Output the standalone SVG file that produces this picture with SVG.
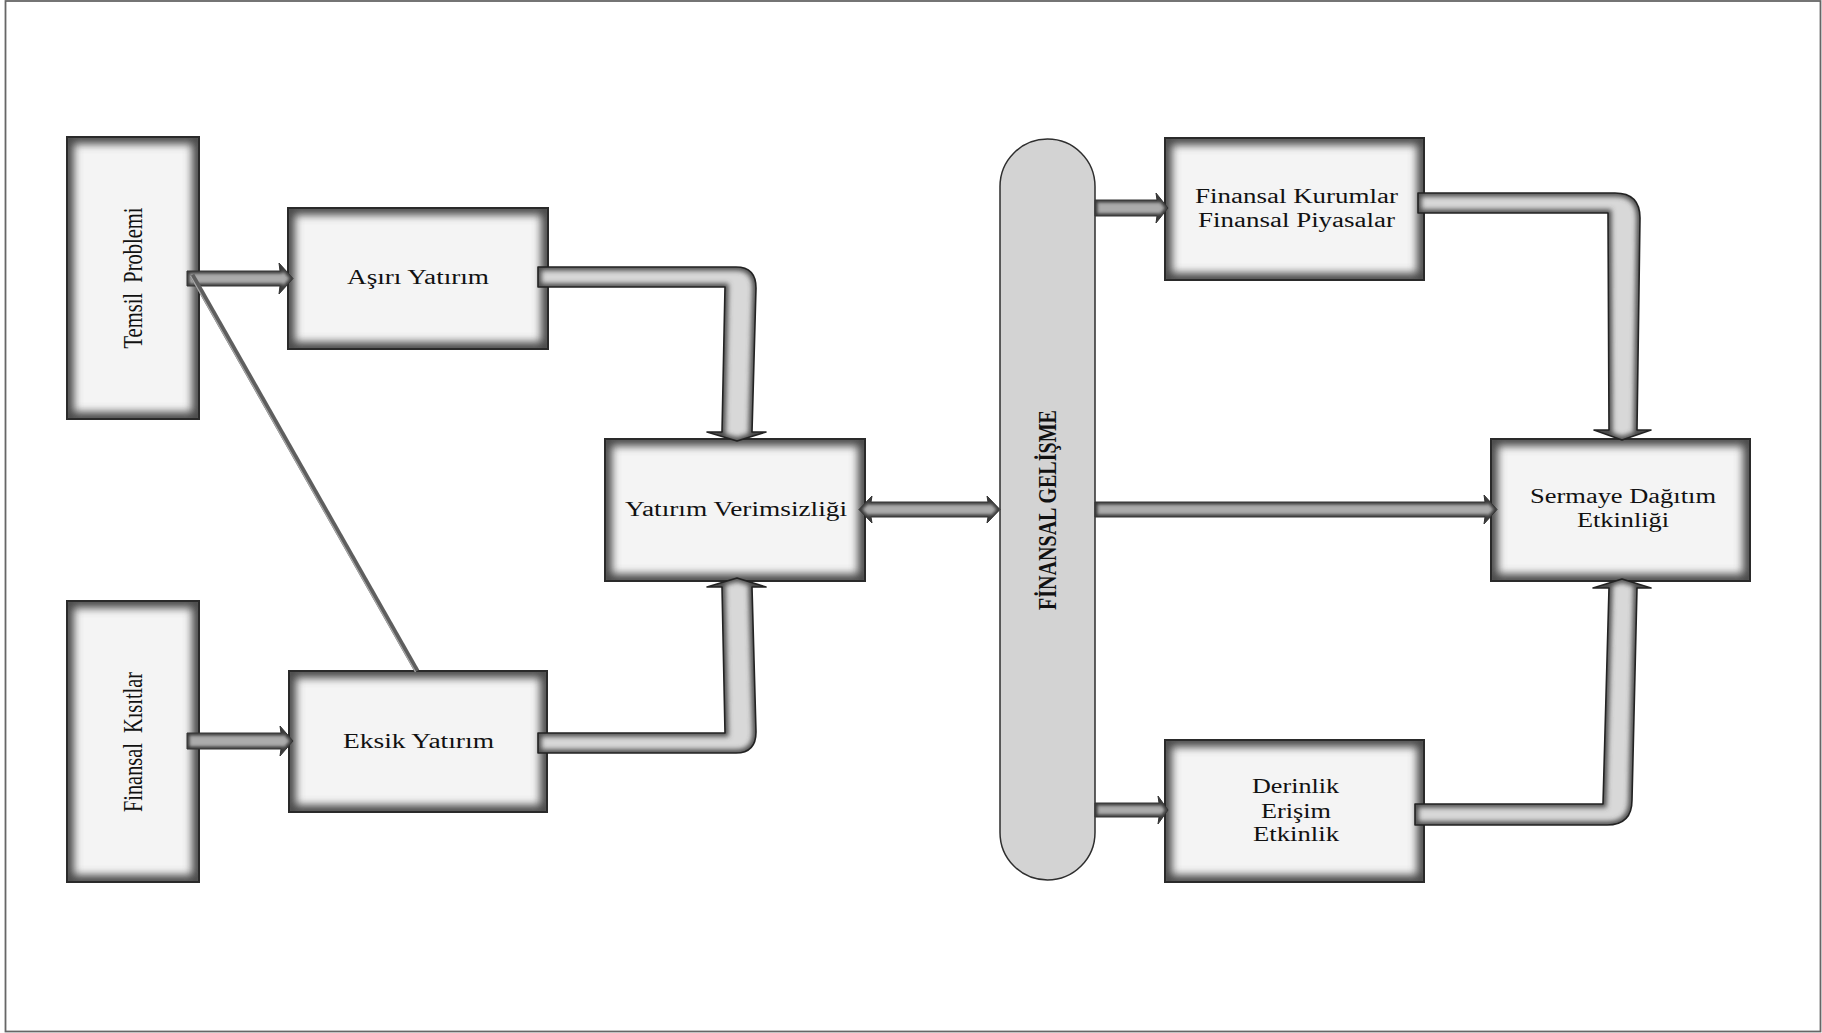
<svg xmlns="http://www.w3.org/2000/svg" width="1822" height="1033" viewBox="0 0 1822 1033">
<defs>
<filter id="blurBox" x="-25%" y="-25%" width="150%" height="150%"><feGaussianBlur stdDeviation="4.5"/></filter>
<filter id="blurPipe" x="-25%" y="-25%" width="150%" height="150%"><feGaussianBlur stdDeviation="2.6"/></filter>
<filter id="blurArr" x="-10%" y="-60%" width="120%" height="220%"><feGaussianBlur stdDeviation="1.6"/></filter>
<clipPath id="cbox" clipPathUnits="objectBoundingBox"><rect x="0" y="0" width="1" height="1"/></clipPath>
<path id="p1" d="M538,267 H736 Q756,267 756,288 L752,432 H766 L737,441 L707,432 H722 L725,287 H538 Z"/>
<path id="p2" d="M538,733 H725 L722,587 H707 L737,578 L766,587 H752 L756,732 Q756,753 736,753 H538 Z"/>
<path id="p3" d="M1418,193 H1615 Q1640,193 1640,218 L1637,430 H1651 L1622,440 L1594,430 H1609 L1608,213 H1418 Z"/>
<path id="p4" d="M1415,804 H1603 L1609,588 H1593 L1622,579 L1651,588 H1637 L1632,800 Q1632,825 1607,825 H1415 Z"/>
<polygon id="a1" points="187,271 280,271 279,263 293,278.5 279,294 280,286 187,286"/>
<polygon id="a2" points="187,733 281,733 280,726 293,741 280,756 281,749 187,749"/>
<polygon id="a3" points="1095,200 1157,200 1156,193 1168,208 1156,223 1157,216 1095,216"/>
<polygon id="a4" points="1095,502 1485,502 1484,495 1497,509.5 1484,524 1485,517 1095,517"/>
<polygon id="a5" points="1095,803 1159,803 1158,796 1168,810 1158,824 1159,817 1095,817"/>
<polygon id="a6" points="871,502 988,502 987,496 1000,509.5 987,523 988,517 871,517 872,523 859,509.5 872,496"/>
<clipPath id="cp1"><use href="#p1"/></clipPath>
<clipPath id="cp2"><use href="#p2"/></clipPath>
<clipPath id="cp3"><use href="#p3"/></clipPath>
<clipPath id="cp4"><use href="#p4"/></clipPath>
<clipPath id="ca1"><use href="#a1"/></clipPath>
<clipPath id="ca2"><use href="#a2"/></clipPath>
<clipPath id="ca3"><use href="#a3"/></clipPath>
<clipPath id="ca4"><use href="#a4"/></clipPath>
<clipPath id="ca5"><use href="#a5"/></clipPath>
<clipPath id="ca6"><use href="#a6"/></clipPath>
<style>
.box{fill:#f4f4f4;stroke:none}
.glow{fill:none;stroke:#484848;stroke-width:14;filter:url(#blurBox);clip-path:url(#cbox)}
.edge{fill:none;stroke:#2a2a2a;stroke-width:2}
.pill{fill:#d3d3d3;stroke:#2e2e2e;stroke-width:1.5}
.pipe{fill:#d8d8d8;stroke:none}
.pglow{fill:none;stroke:#4a4a4a;stroke-width:7;filter:url(#blurPipe)}
.pedge{fill:none;stroke:#222;stroke-width:1.6;stroke-linejoin:round}
.arr{fill:#ababab;stroke:none}
.aglow{fill:none;stroke:#3a3a3a;stroke-width:5;filter:url(#blurArr)}
.aedge{fill:none;stroke:#333;stroke-width:1;stroke-linejoin:round}
.t{font-family:"Liberation Serif","Times New Roman",serif;font-size:20px;fill:#111;text-anchor:middle}
.tv{font-family:"Liberation Serif","Times New Roman",serif;font-size:28px;fill:#111;text-anchor:middle;white-space:pre}
.tb{font-family:"Liberation Serif","Times New Roman",serif;font-size:26px;font-weight:bold;fill:#111;text-anchor:middle}
</style>
</defs>
<rect x="0" y="0" width="1822" height="1033" fill="#fff"/>
<rect x="5.5" y="1" width="1815" height="1030.5" fill="none" stroke="#666" stroke-width="1.8"/>

<g id="n-temsil">
<rect class="box" x="67" y="137" width="132" height="282"/>
<rect class="glow" x="67" y="137" width="132" height="282"/>
<rect class="edge" x="67" y="137" width="132" height="282"/>
<text class="tv" xml:space="preserve" transform="translate(142,278) rotate(-90)" textLength="141" lengthAdjust="spacingAndGlyphs">Temsil  Problemi</text>
</g>
<g id="n-kisit">
<rect class="box" x="67" y="601" width="132" height="281"/>
<rect class="glow" x="67" y="601" width="132" height="281"/>
<rect class="edge" x="67" y="601" width="132" height="281"/>
<text class="tv" xml:space="preserve" transform="translate(142,742) rotate(-90)" textLength="140" lengthAdjust="spacingAndGlyphs">Finansal  Kısıtlar</text>
</g>
<g id="n-asiri">
<rect class="box" x="288" y="208" width="260" height="141"/>
<rect class="glow" x="288" y="208" width="260" height="141"/>
<rect class="edge" x="288" y="208" width="260" height="141"/>
<text class="t" x="418" y="284" textLength="142" lengthAdjust="spacingAndGlyphs">Aşırı Yatırım</text>
</g>
<g id="n-eksik">
<rect class="box" x="289" y="671" width="258" height="141"/>
<rect class="glow" x="289" y="671" width="258" height="141"/>
<rect class="edge" x="289" y="671" width="258" height="141"/>
<text class="t" x="418.5" y="748" textLength="151" lengthAdjust="spacingAndGlyphs">Eksik Yatırım</text>
</g>
<g id="n-verimsiz">
<rect class="box" x="605" y="439" width="260" height="142"/>
<rect class="glow" x="605" y="439" width="260" height="142"/>
<rect class="edge" x="605" y="439" width="260" height="142"/>
<text class="t" x="736" y="516" textLength="222" lengthAdjust="spacingAndGlyphs">Yatırım Verimsizliği</text>
</g>
<g id="n-gelisme">
<rect class="pill" x="1000" y="139" width="95" height="741" rx="47.5" ry="47.5"/>
<text class="tb" transform="translate(1056,510) rotate(-90)" textLength="200" lengthAdjust="spacingAndGlyphs">FİNANSAL GELİŞME</text>
</g>
<g id="n-kurum">
<rect class="box" x="1165" y="138" width="259" height="142"/>
<rect class="glow" x="1165" y="138" width="259" height="142"/>
<rect class="edge" x="1165" y="138" width="259" height="142"/>
<text class="t" x="1296.5" y="203" textLength="203" lengthAdjust="spacingAndGlyphs">Finansal Kurumlar</text>
<text class="t" x="1296.5" y="227" textLength="197" lengthAdjust="spacingAndGlyphs">Finansal Piyasalar</text>
</g>
<g id="n-sermaye">
<rect class="box" x="1491" y="439" width="259" height="142"/>
<rect class="glow" x="1491" y="439" width="259" height="142"/>
<rect class="edge" x="1491" y="439" width="259" height="142"/>
<text class="t" x="1623" y="503" textLength="186" lengthAdjust="spacingAndGlyphs">Sermaye Dağıtım</text>
<text class="t" x="1623" y="527" textLength="92" lengthAdjust="spacingAndGlyphs">Etkinliği</text>
</g>
<g id="n-derinlik">
<rect class="box" x="1165" y="740" width="259" height="142"/>
<rect class="glow" x="1165" y="740" width="259" height="142"/>
<rect class="edge" x="1165" y="740" width="259" height="142"/>
<text class="t" x="1295.5" y="793" textLength="87" lengthAdjust="spacingAndGlyphs">Derinlik</text>
<text class="t" x="1296" y="818" textLength="70" lengthAdjust="spacingAndGlyphs">Erişim</text>
<text class="t" x="1296" y="841" textLength="86" lengthAdjust="spacingAndGlyphs">Etkinlik</text>
</g>

<g id="connectors">
<g clip-path="url(#cp1)"><use href="#p1" class="pipe"/><use href="#p1" class="pglow"/></g><use href="#p1" class="pedge"/>
<g clip-path="url(#cp2)"><use href="#p2" class="pipe"/><use href="#p2" class="pglow"/></g><use href="#p2" class="pedge"/>
<g clip-path="url(#cp3)"><use href="#p3" class="pipe"/><use href="#p3" class="pglow"/></g><use href="#p3" class="pedge"/>
<g clip-path="url(#cp4)"><use href="#p4" class="pipe"/><use href="#p4" class="pglow"/></g><use href="#p4" class="pedge"/>
<g clip-path="url(#ca1)"><use href="#a1" class="arr"/><use href="#a1" class="aglow"/></g><use href="#a1" class="aedge"/>
<g clip-path="url(#ca2)"><use href="#a2" class="arr"/><use href="#a2" class="aglow"/></g><use href="#a2" class="aedge"/>
<g clip-path="url(#ca3)"><use href="#a3" class="arr"/><use href="#a3" class="aglow"/></g><use href="#a3" class="aedge"/>
<g clip-path="url(#ca4)"><use href="#a4" class="arr"/><use href="#a4" class="aglow"/></g><use href="#a4" class="aedge"/>
<g clip-path="url(#ca5)"><use href="#a5" class="arr"/><use href="#a5" class="aglow"/></g><use href="#a5" class="aedge"/>
<g clip-path="url(#ca6)"><use href="#a6" class="arr"/><use href="#a6" class="aglow"/></g><use href="#a6" class="aedge"/>
<line x1="192" y1="275" x2="417" y2="671" stroke="#5e5e5e" stroke-width="5"/>
<line x1="190.5" y1="276" x2="415.5" y2="672" stroke="#a8a8a8" stroke-width="1.3"/>
</g>
</svg>
